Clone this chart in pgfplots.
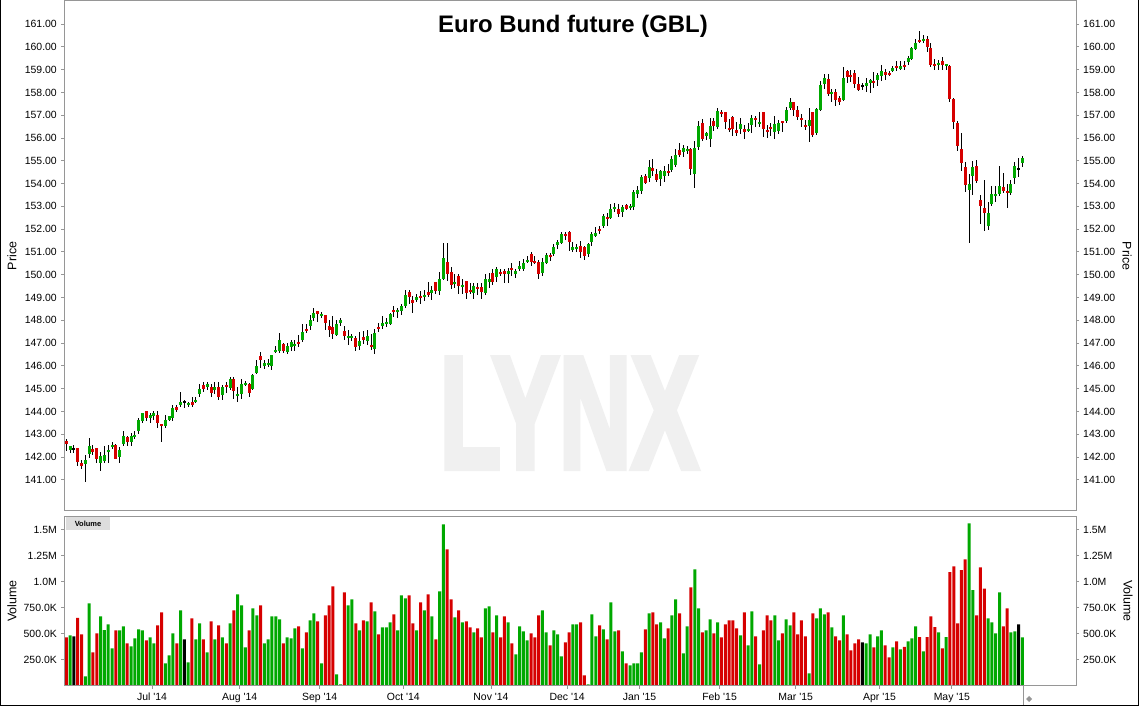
\documentclass[border=0pt]{standalone}
\usepackage{pgfplots}
\pgfplotsset{compat=1.18}
\usepackage{pgfplotstable}
\usepackage{fontspec}
\setmainfont{Liberation Sans}[Ligatures=TeXOff]
\newfontfamily\wmfont{Liberation Sans}[BoldFeatures={FakeBold=4}]
\definecolor{cgreen}{RGB}{0,168,0}
\definecolor{cred}{RGB}{214,0,0}
\definecolor{axgray}{RGB}{150,150,150}
\definecolor{wm}{RGB}{240,240,240}
\definecolor{boxgray}{RGB}{221,221,221}

\pgfplotstableread{
i o h l c v d
0 142.73 142.82 142.28 142.57 468 -1
1 142.31 142.49 142.17 142.47 487 1
2 142.36 142.55 142.17 142.36 478 0
3 142.40 142.40 141.63 141.80 654 -1
4 141.73 141.87 141.49 141.62 497 -1
5 141.70 142.11 140.92 141.86 93 1
6 142.12 142.85 141.98 142.49 795 1
7 142.36 142.55 142.11 142.23 324 -1
8 142.40 142.40 141.76 141.90 506 -1
9 141.76 142.23 141.41 142.06 670 1
10 141.85 142.49 141.76 142.11 538 1
11 142.23 142.52 141.76 142.31 593 1
12 142.46 142.65 142.37 142.55 362 1
13 142.55 142.60 141.90 141.93 535 -1
14 142.01 142.46 141.76 142.31 535 1
15 142.60 143.13 142.51 142.95 574 1
16 142.87 142.95 142.47 142.65 410 -1
17 142.65 143.08 142.51 142.95 381 1
18 142.87 143.13 142.78 142.95 458 1
19 143.17 143.74 143.00 143.65 545 1
20 143.57 143.96 143.48 143.92 535 1
21 144.01 144.01 143.57 143.74 439 -1
22 143.70 143.96 143.52 143.83 468 1
23 143.79 144.01 143.61 143.92 410 1
24 143.83 144.01 143.30 143.48 583 -1
25 143.44 143.44 142.65 143.35 708 -1
26 143.35 143.83 143.30 143.65 218 1
27 143.61 143.82 143.58 143.79 295 1
28 143.70 144.31 143.57 144.18 506 1
29 144.18 144.31 144.00 144.09 410 -1
30 144.31 144.84 144.22 144.40 728 1
31 144.40 144.49 144.14 144.40 449 0
32 144.27 144.44 144.22 144.36 228 1
33 144.40 144.66 144.18 144.31 651 -1
34 144.40 144.66 144.36 144.53 449 1
35 144.75 145.23 144.66 144.97 603 1
36 145.15 145.28 144.84 145.01 449 -1
37 145.06 145.28 144.93 145.19 324 1
38 145.06 145.19 144.66 144.80 622 -1
39 144.93 145.28 144.75 145.10 449 1
40 145.10 145.28 144.53 144.66 583 -1
41 144.75 145.15 144.53 145.06 468 1
42 145.15 145.28 144.80 145.06 410 -1
43 145.05 145.53 144.95 145.45 603 1
44 145.43 145.53 144.54 144.90 728 -1
45 144.70 145.09 144.44 144.77 881 1
46 144.77 145.43 144.54 145.21 776 1
47 145.17 145.34 145.12 145.25 372 1
48 145.21 145.25 144.63 144.83 535 -1
49 145.00 145.65 144.95 145.61 747 1
50 145.69 146.26 145.65 146.00 679 1
51 146.44 146.61 145.91 146.26 776 -1
52 146.00 146.26 145.87 146.13 410 1
53 146.04 146.31 145.97 146.13 449 1
54 146.00 146.48 145.82 146.48 670 1
55 146.62 146.88 146.56 146.70 670 1
56 146.66 147.45 146.59 147.14 641 1
57 146.96 147.01 146.59 146.66 410 -1
58 146.62 147.01 146.53 146.88 468 1
59 146.83 147.14 146.66 147.05 458 1
60 146.88 147.14 146.66 146.96 554 1
61 147.05 147.36 146.83 146.96 574 -1
62 147.14 147.84 147.05 147.49 362 1
63 147.62 147.84 147.45 147.54 516 -1
64 147.75 148.24 147.58 148.02 631 1
65 148.11 148.54 147.97 148.32 699 1
66 148.41 148.41 147.93 148.28 622 -1
67 148.19 148.37 148.11 148.28 218 1
68 148.24 148.24 147.58 147.87 679 -1
69 147.75 148.02 147.26 147.58 776 -1
70 147.71 148.19 147.18 147.40 958 -1
71 147.36 148.02 147.32 147.84 112 1
72 147.88 148.11 147.75 148.02 16 1
73 147.54 147.75 147.14 147.32 901 -1
74 147.23 147.58 146.92 147.32 776 1
75 147.23 147.40 147.10 147.32 833 1
76 147.23 147.32 146.66 146.83 603 -1
77 146.88 147.49 146.70 147.10 535 1
78 147.27 147.54 146.96 147.14 631 -1
79 147.10 147.58 146.92 147.32 622 1
80 146.92 147.40 146.70 146.83 804 -1
81 146.75 147.62 146.53 147.45 718 1
82 147.71 147.88 147.49 147.62 497 -1
83 147.78 148.19 147.62 147.86 564 1
84 147.84 148.10 147.70 147.93 564 1
85 147.84 148.32 147.80 148.28 612 1
86 148.45 148.63 148.17 148.37 689 -1
87 148.37 148.55 148.10 148.45 535 1
88 148.41 148.72 148.24 148.63 872 1
89 148.63 149.33 148.54 149.11 843 1
90 149.25 149.33 148.72 149.03 872 -1
91 148.89 149.07 148.33 148.76 603 -1
92 148.89 149.16 148.81 149.03 535 1
93 149.07 149.29 148.72 148.98 805 -1
94 149.03 149.33 148.85 149.11 728 1
95 149.25 149.68 149.03 149.11 882 -1
96 149.20 149.51 148.89 149.33 670 1
97 149.68 149.68 149.16 149.29 448 -1
98 149.29 150.12 149.11 149.82 911 1
99 149.82 151.40 149.77 150.74 1555 1
100 150.56 151.40 149.73 150.04 1314 -1
101 150.12 150.34 149.38 149.55 834 -1
102 149.60 150.04 149.42 149.68 660 1
103 149.95 150.04 149.16 149.51 728 -1
104 149.46 149.82 149.16 149.55 612 1
105 149.73 149.73 148.94 149.20 622 -1
106 149.33 149.64 149.16 149.25 564 -1
107 149.20 149.64 148.94 149.51 516 1
108 149.46 149.64 149.11 149.38 555 -1
109 149.46 149.64 148.94 149.25 468 -1
110 149.20 150.04 149.11 149.82 747 1
111 149.68 150.08 149.42 149.82 766 1
112 150.08 150.26 149.55 149.68 516 -1
113 149.90 150.34 149.68 150.26 679 1
114 150.12 150.26 149.95 150.04 468 -1
115 150.17 150.26 149.64 150.04 670 -1
116 150.04 150.30 149.64 150.17 612 1
117 150.30 150.52 149.95 150.21 410 -1
118 150.04 150.26 149.86 150.17 305 1
119 150.26 150.61 150.17 150.39 574 1
120 150.26 150.69 150.17 150.52 526 1
121 150.56 150.82 150.52 150.65 439 1
122 150.91 151.00 150.39 150.56 506 -1
123 150.61 150.82 150.47 150.52 468 -1
124 150.56 150.65 149.82 150.04 679 -1
125 150.08 150.74 149.95 150.56 728 1
126 150.52 150.96 150.47 150.87 516 1
127 150.87 150.96 150.61 150.78 391 -1
128 150.91 151.35 150.82 151.22 535 1
129 151.31 151.53 151.13 151.44 497 1
130 151.40 151.88 151.35 151.79 286 1
131 151.79 151.88 151.53 151.70 420 -1
132 151.88 151.92 151.04 151.44 516 -1
133 151.09 151.44 151.00 151.22 593 1
134 151.13 151.35 151.00 151.22 593 1
135 151.26 151.48 150.74 151.00 612 -1
136 151.22 151.26 150.65 150.82 103 -1
137 150.91 151.40 150.78 151.35 16 1
138 151.44 151.88 151.26 151.79 689 1
139 151.70 152.10 151.66 151.83 478 1
140 152.01 152.14 151.79 151.92 583 -1
141 152.14 152.67 152.05 152.58 545 1
142 152.54 152.71 152.14 152.45 448 -1
143 152.49 153.10 152.45 152.89 805 1
144 152.89 153.15 152.75 152.97 526 1
145 152.89 153.10 152.55 152.67 535 -1
146 152.75 153.05 152.55 152.97 333 1
147 153.06 153.10 152.84 152.89 218 -1
148 152.93 153.10 152.84 153.02 199 1
149 152.97 153.72 152.84 153.63 218 1
150 153.54 153.89 153.37 153.72 218 1
151 153.68 154.38 153.54 154.29 324 1
152 154.33 154.42 153.98 154.02 545 -1
153 154.25 155.03 154.07 154.73 699 1
154 154.68 155.08 154.33 154.55 709 -1
155 154.42 154.64 154.07 154.16 593 -1
156 154.20 154.60 153.89 154.55 612 1
157 154.33 154.77 154.07 154.55 458 1
158 154.55 154.86 154.33 154.46 555 -1
159 154.60 155.21 154.51 155.08 679 1
160 154.82 155.52 154.73 155.25 834 1
161 155.47 155.78 155.17 155.25 699 -1
162 155.39 155.69 155.17 155.56 314 1
163 155.43 155.65 155.30 155.52 574 1
164 155.52 155.56 154.38 154.64 949 -1
165 154.42 155.87 153.81 155.56 1122 1
166 155.60 156.74 155.47 156.53 747 1
167 156.66 156.83 155.87 155.96 516 -1
168 156.09 156.26 155.91 156.22 535 1
169 155.96 156.88 155.60 156.53 641 1
170 156.74 156.88 156.31 156.53 506 -1
171 156.48 157.31 156.40 157.18 612 1
172 157.14 157.23 156.92 157.05 468 -1
173 157.14 157.14 156.40 156.70 593 -1
174 156.44 156.83 156.26 156.35 631 -1
175 156.92 156.96 156.09 156.40 631 -1
176 156.35 156.70 156.09 156.22 555 -1
177 156.40 156.88 156.18 156.61 487 1
178 156.40 156.57 155.96 156.26 709 -1
179 156.31 156.66 156.26 156.40 391 1
180 156.57 157.01 156.22 156.88 718 1
181 156.88 156.96 156.48 156.79 478 -1
182 156.61 157.14 156.48 156.70 208 1
183 157.14 157.14 156.04 156.40 535 -1
184 156.35 156.57 156.00 156.26 679 -1
185 156.48 156.66 156.09 156.40 631 -1
186 156.26 156.96 155.96 156.61 679 1
187 156.31 156.79 156.18 156.66 439 1
188 156.74 156.74 156.26 156.66 506 -1
189 156.74 157.36 156.66 157.23 641 1
190 157.31 157.75 157.23 157.58 583 1
191 157.58 157.58 156.96 157.23 709 -1
192 157.23 157.40 156.79 156.92 497 -1
193 156.88 157.05 156.48 156.79 631 -1
194 156.57 156.79 156.35 156.48 478 -1
195 156.53 157.31 155.83 156.79 122 1
196 157.14 157.14 156.04 156.13 699 -1
197 156.22 157.30 156.13 157.27 651 1
198 157.25 158.50 157.20 158.32 747 1
199 158.37 158.81 158.15 158.63 689 1
200 158.59 158.81 157.84 157.91 709 -1
201 157.93 158.15 157.58 158.02 564 1
202 158.02 158.15 157.40 157.67 478 -1
203 157.75 157.84 157.45 157.58 439 -1
204 157.67 159.11 157.62 158.63 679 1
205 158.94 158.98 158.41 158.68 497 -1
206 158.76 158.98 158.45 158.68 343 -1
207 158.85 158.98 158.19 158.37 410 -1
208 158.37 158.68 158.06 158.10 448 -1
209 158.28 158.41 158.10 158.28 420 0
210 158.28 158.63 158.02 158.41 410 1
211 158.41 158.59 157.97 158.54 497 1
212 158.50 158.89 158.19 158.41 372 -1
213 158.54 158.85 158.28 158.76 478 1
214 158.72 159.20 158.50 158.94 535 1
215 158.89 159.02 158.54 158.76 391 -1
216 158.85 158.94 158.72 158.76 276 -1
217 158.94 159.16 158.89 159.07 372 1
218 159.16 159.38 158.94 159.07 429 -1
219 159.02 159.38 158.98 159.16 353 1
220 159.20 159.38 158.98 159.11 375 -1
221 159.33 159.60 159.20 159.51 430 1
222 159.46 159.99 159.42 159.95 459 1
223 159.90 160.34 159.86 160.17 574 1
224 160.30 160.69 160.17 160.21 471 -1
225 160.26 160.52 160.17 160.34 334 1
226 160.34 160.47 159.77 159.99 471 -1
227 159.95 160.17 159.11 159.20 670 -1
228 159.24 159.46 158.98 159.18 567 -1
229 159.20 159.42 158.98 159.29 516 1
230 159.38 159.55 158.98 159.20 362 -1
231 159.16 159.24 158.98 159.24 471 1
232 159.16 159.20 157.58 157.71 1096 -1
233 157.71 157.75 156.39 156.70 1151 -1
234 156.66 156.74 155.43 155.65 603 -1
235 155.52 156.22 154.55 154.90 1113 -1
236 154.73 154.95 153.63 153.94 1218 -1
237 153.72 154.42 151.40 153.98 1564 1
238 154.33 154.99 153.50 154.73 923 1
239 154.77 155.03 154.02 154.11 680 -1
240 153.28 153.50 152.23 153.02 1141 -1
241 152.93 154.16 151.92 152.71 936 -1
242 152.14 153.19 151.96 152.71 651 1
243 153.10 153.89 153.02 153.54 612 1
244 153.45 153.89 153.19 153.54 507 1
245 153.54 154.77 153.45 153.89 901 1
246 153.85 154.46 153.58 153.67 574 -1
247 153.67 153.98 152.93 153.58 747 -1
248 153.58 154.16 153.50 153.98 516 1
249 154.24 154.95 153.98 154.77 526 1
250 154.64 155.12 154.29 154.64 593 0
251 154.90 155.21 154.73 155.12 468 1
}\data

\pgfplotsset{
  panel/.style={
    scale only axis, width=1012bp,
    xmin=-0.604, xmax=265.08,
    axis line style={draw=axgray, line width=1bp},
    tick style={draw=axgray, line width=1bp},
    major tick length=3bp,
    tick align=outside,
    ticklabel style={font=\fontsize{10.5}{12}\selectfont, text=black},
  },
  pricepanel/.style={panel, at={(64bp,195bp)}, anchor=south west, height=510bp,
    ymin=139.64, ymax=162.01, xtick=\empty,
    ytick={141,142,143,144,145,146,147,148,149,150,151,152,153,154,155,156,157,158,159,160,161},
    yticklabels={141.00,142.00,143.00,144.00,145.00,146.00,147.00,148.00,149.00,150.00,151.00,152.00,153.00,154.00,155.00,156.00,157.00,158.00,159.00,160.00,161.00}},
  volpanel/.style={panel, at={(64bp,20bp)}, anchor=south west, height=169bp,
    ymin=0, ymax=1625,
    ytick={250,500,750,1000,1250,1500},
    yticklabels={250.0K,500.0K,750.0K,1.0M,1.25M,1.5M}},
  wick/.style={draw=none, mark=none, error bars/y dir=both, error bars/y explicit, error bars/error mark=none,
    error bars/error bar style={draw=black, line width=1bp, solid}},
  body/.style={draw=none, mark=none, error bars/y dir=both, error bars/y explicit, error bars/error mark=none,
    error bars/error bar style={draw=#1, line width=3bp, solid}},
  vbar/.style={ybar, bar width=3bp, bar shift=0pt, fill=#1, draw=none},
}

\begin{document}
\begin{tikzpicture}[x=1bp,y=1bp]
\useasboundingbox (0,0) rectangle (1139,706);
\fill[white] (0,0) rectangle (1139,706);
% watermark
\node[anchor=base, inner sep=0pt, font=\wmfont\bfseries\fontsize{160}{160}\selectfont, text=wm, xscale=0.63] at (569,238) {LYNX};

% price panel, left
\begin{axis}[pricepanel, ytick pos=left,
  yticklabel style={inner sep=0pt, anchor=east, xshift=-4bp}]
\addplot[wick] table[x=i, y expr={(\thisrow{h}+\thisrow{l})/2}, y error expr={(\thisrow{h}-\thisrow{l})/2}] {\data};
\addplot[body=cgreen, restrict expr to domain={\thisrow{d}}{0.5:1.5}] table[x=i, y expr={(\thisrow{o}+\thisrow{c})/2}, y error expr={max(abs(\thisrow{c}-\thisrow{o})/2,0.045)}] {\data};
\addplot[body=cred, restrict expr to domain={\thisrow{d}}{-1.5:-0.5}] table[x=i, y expr={(\thisrow{o}+\thisrow{c})/2}, y error expr={max(abs(\thisrow{c}-\thisrow{o})/2,0.045)}] {\data};
\addplot[body=black, restrict expr to domain={\thisrow{d}}{-0.5:0.5}] table[x=i, y expr={(\thisrow{o}+\thisrow{c})/2}, y error expr={max(abs(\thisrow{c}-\thisrow{o})/2,0.045)}] {\data};
\end{axis}
% price panel, right labels
\begin{axis}[pricepanel, ytick pos=right, yticklabel pos=right,
  yticklabel style={inner sep=0pt, anchor=west, xshift=4bp}]
\end{axis}

% volume panel, left
\begin{axis}[volpanel, ytick pos=left, xtick pos=left,
  yticklabel style={inner sep=0pt, anchor=east, xshift=-4bp},
  xtick={22.5,45.5,66.5,88.5,111.5,131.5,150.5,171.5,191.5,213.5,232.5},
  xticklabels={Jul '14,Aug '14,Sep '14,Oct '14,Nov '14,Dec '14,Jan '15,Feb '15,Mar '15,Apr '15,May '15},
  xticklabel style={inner sep=0pt, anchor=north, yshift=-4bp}]
\addplot[vbar=cgreen, restrict expr to domain={\thisrow{d}}{0.5:1.5}] table[x=i, y=v] {\data};
\addplot[vbar=cred, restrict expr to domain={\thisrow{d}}{-1.5:-0.5}] table[x=i, y=v] {\data};
\addplot[vbar=black, restrict expr to domain={\thisrow{d}}{-0.5:0.5}] table[x=i, y=v] {\data};
\end{axis}
% volume panel, right labels
\begin{axis}[volpanel, ytick pos=right, yticklabel pos=right, xtick=\empty,
  yticklabel style={inner sep=0pt, anchor=west, xshift=4bp}]
\end{axis}

% Volume tag
\fill[boxgray] (66,176) rectangle (110,188.5);
\node[font=\bfseries\fontsize{7.5}{9}\selectfont, inner sep=0pt] at (88,182) {Volume};

% axis titles
\node[rotate=90, font=\fontsize{12.5}{14}\selectfont] at (12,450) {Price};
\node[rotate=-90, font=\fontsize{12.5}{14}\selectfont] at (1127,450) {Price};
\node[rotate=90, font=\fontsize{12.5}{14}\selectfont] at (12,105) {Volume};
\node[rotate=-90, font=\fontsize{12.5}{14}\selectfont] at (1128,105) {Volume};

% title
\node[anchor=base, font=\bfseries\fontsize{24}{28}\selectfont, inner sep=0pt] at (573,673) {Euro Bund future (GBL)};

% scroll marker
\draw[axgray, line width=1bp] (1023.3,1) -- (1023.3,20);
\fill[axgray] (1026,7) -- (1029,10) -- (1032,7) -- (1029,4) -- cycle;

% outer frame
\draw[black, line width=1.2bp] (0.6,706) -- (0.6,0.6) -- (1138.4,0.6) -- (1138.4,706);
\end{tikzpicture}
\end{document}
